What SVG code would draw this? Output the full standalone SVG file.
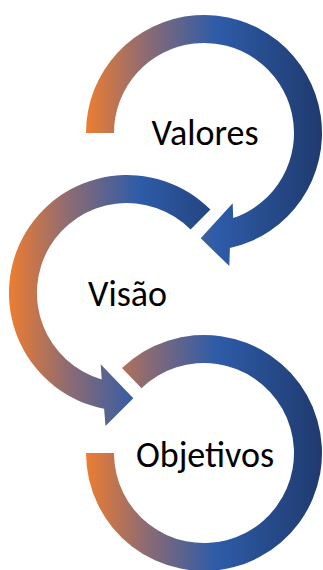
<svg xmlns="http://www.w3.org/2000/svg" xmlns:xlink="http://www.w3.org/1999/xlink" width="323" height="570" viewBox="0 0 323 570">
  <style>
    .lbl { font-family: Carlito, Lato, "Liberation Sans", sans-serif; font-size: 36px; fill: #000000; text-anchor: middle; }
  </style>
  <defs>
    <linearGradient id="gA" gradientUnits="userSpaceOnUse" x1="86" y1="0" x2="322" y2="0">
      <stop offset="0" stop-color="#ED7D31"/>
      <stop offset="0.25" stop-color="#8E6B72"/>
      <stop offset="0.55" stop-color="#2E5CA8"/>
      <stop offset="1" stop-color="#1F3A6E"/>
    </linearGradient>
    <linearGradient id="gB" xlink:href="#gA" href="#gA" gradientUnits="userSpaceOnUse" x1="9" y1="0" x2="245" y2="0"/>
  </defs>
  <g id="connectors"></g>
  <g id="node-valores">
    <path fill="url(#gA)" d="M86,133 A118,118 0 1 1 229.9,248.1 L229.3,266 L200.7,238.3 L232.7,203.3 L233.2,218.1 A90,90 0 1 0 114,133 Z"/>
    <text class="lbl" x="205" y="145">Valores</text>
  </g>
  <g id="node-visao">
    <path fill="url(#gB)" d="M210.4,209.6 A118,118 0 1 0 104.1,408.8 L105.5,426 L133.3,398.3 L100.7,364.3 L101.7,379.4 A90,90 0 1 1 190.6,229.4 Z"/>
    <text class="lbl" x="127.5" y="306">Visão</text>
  </g>
  <g id="node-objetivos">
    <path fill="url(#gA)" d="M122,368.1 A118,118 0 1 1 86,453 L114,453 A90,90 0 1 0 141.5,388.3 Z"/>
    <text class="lbl" x="205" y="467">Objetivos</text>
  </g>
</svg>
